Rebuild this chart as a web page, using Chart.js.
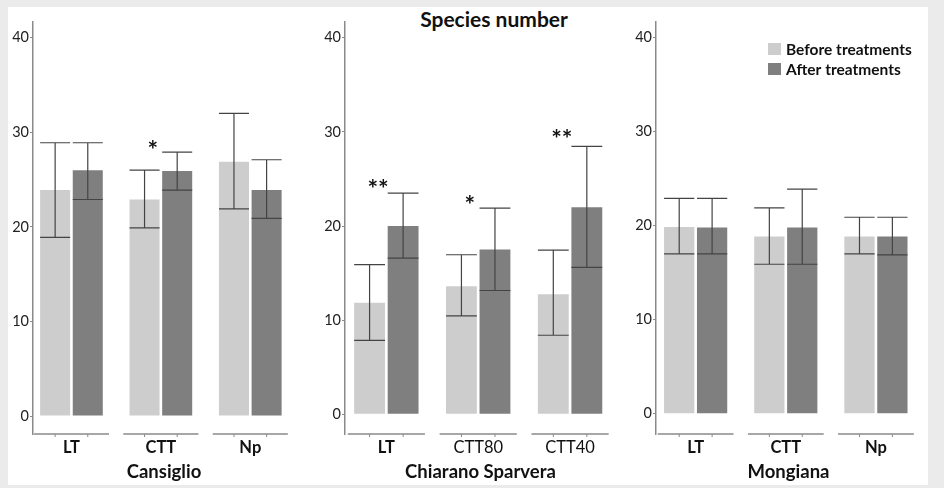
<!DOCTYPE html>
<html>
<head>
<meta charset="utf-8">
<script src="https://cdn.jsdelivr.net/npm/chart.js@4.4.1/dist/chart.umd.min.js"></script>
<style>
  html, body { margin: 0; padding: 0; }
  body { background: #ebebeb; width: 944px; height: 488px; overflow: hidden; position: relative; font-family: Lato, "Open Sans", sans-serif; }
  #sheet { position: absolute; left: 8px; top: 7px; width: 920px; height: 478px; background: #ffffff; }
  canvas { position: absolute; top: 7px; }
  #c1 { left: 8px; }
  #c2 { left: 310px; }
  #c3 { left: 620px; }
  #title { position: absolute; left: 394px; width: 200px; top: 6px; text-align: center; font: bold 21px Lato, sans-serif; color: #111; line-height: 26px; }
</style>
</head>
<body>
<div id="sheet"></div>
<div id="title">Species number</div>
<canvas id="c1" width="302" height="478"></canvas>
<canvas id="c2" width="310" height="478"></canvas>
<canvas id="c3" width="308" height="478"></canvas>
<script>
// ---------------- DATA ----------------
const seriesNames = ['Before treatments', 'After treatments'];
const yTicks = [0, 10, 20, 30, 40];

// Cansiglio
const cansiglioCats = ['LT', 'CTT', 'Np'];
const cansiglioBefore = [23.9, 22.9, 26.9];
const cansiglioBeforeLow = [18.9, 19.9, 21.9];
const cansiglioBeforeHigh = [28.9, 26.0, 32.0];
const cansiglioAfter = [26.0, 25.9, 23.9];
const cansiglioAfterLow = [22.9, 23.9, 20.9];
const cansiglioAfterHigh = [28.9, 27.9, 27.1];
const cansiglioSig = ['', '*', ''];
const cansiglioSigY = [null, 28.65, null];

// Chiarano Sparvera
const chiaranoCats = ['LT', 'CTT80', 'CTT40'];
const chiaranoBefore = [11.85, 13.6, 12.75];
const chiaranoBeforeLow = [7.85, 10.45, 8.4];
const chiaranoBeforeHigh = [15.9, 16.95, 17.45];
const chiaranoAfter = [20.0, 17.5, 22.0];
const chiaranoAfterLow = [16.6, 13.15, 15.6];
const chiaranoAfterHigh = [23.5, 21.9, 28.45];
const chiaranoSig = ['**', '*', '**'];
const chiaranoSigY = [24.5, 22.75, 29.75];

// Mongiana
const mongianaCats = ['LT', 'CTT', 'Np'];
const mongianaBefore = [19.85, 18.85, 18.85];
const mongianaBeforeLow = [17.0, 15.9, 17.0];
const mongianaBeforeHigh = [22.9, 21.9, 20.9];
const mongianaAfter = [19.8, 19.8, 18.85];
const mongianaAfterLow = [17.0, 15.9, 16.9];
const mongianaAfterHigh = [22.9, 23.9, 20.9];
const mongianaSig = ['', '', ''];
const mongianaSigY = [null, null, null];

// ---------------- STYLE ----------------
const COLOR_BEFORE = '#cdcdcd';
const COLOR_AFTER = '#7f7f7f';
const AXIS_COLOR = '#8a8a8a';
const ERR_COLOR = '#444444';
const FONT = 'Lato, "Open Sans", sans-serif';

const errorBarPlugin = {
  id: 'errorBars',
  afterDatasetsDraw(chart) {
    const ctx = chart.ctx, y = chart.scales.y;
    ctx.save();
    ctx.strokeStyle = ERR_COLOR;
    ctx.lineWidth = 1.2;
    chart.data.datasets.forEach((ds, d) => {
      const meta = chart.getDatasetMeta(d);
      meta.data.forEach((bar, i) => {
        const yl = y.getPixelForValue(ds.errLow[i]);
        const yh = y.getPixelForValue(ds.errHigh[i]);
        const half = bar.width / 2;
        ctx.beginPath();
        ctx.moveTo(bar.x - half, yh); ctx.lineTo(bar.x + half, yh);
        ctx.moveTo(bar.x - half, yl); ctx.lineTo(bar.x + half, yl);
        ctx.moveTo(bar.x, yl); ctx.lineTo(bar.x, yh);
        ctx.stroke();
      });
    });
    ctx.restore();
  }
};

const axisSegmentsPlugin = {
  id: 'axisSegments',
  afterDatasetsDraw(chart) {
    const ctx = chart.ctx, x = chart.scales.x, area = chart.chartArea;
    const n = chart.options.plugins.axisSegments.count;
    ctx.save();
    ctx.strokeStyle = AXIS_COLOR;
    ctx.lineWidth = 1.5;
    const yb = area.bottom;
    for (let i = 0; i < n; i++) {
      const x1 = Math.max(area.left, x.getPixelForValue(i - 0.42));
      const x2 = x.getPixelForValue(i + 0.42);
      ctx.beginPath(); ctx.moveTo(x1, yb); ctx.lineTo(x2, yb); ctx.stroke();
    }
    ctx.lineWidth = 1;
    chart.data.datasets.forEach((ds, d) => {
      chart.getDatasetMeta(d).data.forEach(bar => {
        ctx.beginPath(); ctx.moveTo(bar.x, yb); ctx.lineTo(bar.x, yb + 3); ctx.stroke();
      });
    });
    ctx.restore();
  }
};

const sigPlugin = {
  id: 'sigMarks',
  afterDatasetsDraw(chart) {
    const o = chart.options.plugins.sigMarks;
    const ctx = chart.ctx, x = chart.scales.x, y = chart.scales.y;
    ctx.save();
    ctx.fillStyle = '#111';
    ctx.font = 'bold 25px ' + FONT;
    ctx.textAlign = 'center';
    ctx.textBaseline = 'alphabetic';
    o.text.forEach((t, i) => {
      if (!t) return;
      ctx.fillText(t, x.getPixelForValue(i - 0.09), y.getPixelForValue(o.at[i]) + 14);
    });
    ctx.restore();
  }
};

const innerLegendPlugin = {
  id: 'innerLegend',
  afterDraw(chart) {
    const o = chart.options.plugins.innerLegend;
    if (!o.show) return;
    const ctx = chart.ctx, area = chart.chartArea;
    ctx.save();
    ctx.font = 'bold 15.5px ' + FONT;
    ctx.textBaseline = 'middle';
    ctx.textAlign = 'left';
    chart.data.datasets.forEach((ds, d) => {
      const bx = area.right - 153, by = area.top + 21 + d * 20;
      ctx.fillStyle = ds.backgroundColor;
      ctx.fillRect(bx, by, 13, 12);
      ctx.fillStyle = '#111';
      ctx.fillText(ds.label, bx + 18, by + 7);
    });
    ctx.restore();
  }
};

function makePanel(id, p) {
  const mk = (vals, lo, hi, idx) => ({
    label: seriesNames[idx],
    data: vals.map((v, i) => ({ x: i, y: v })),
    errLow: lo, errHigh: hi,
    backgroundColor: idx === 0 ? COLOR_BEFORE : COLOR_AFTER,
    borderWidth: 0,
    categoryPercentage: 0.73,
    barPercentage: 0.92
  });
  return new Chart(document.getElementById(id), {
    type: 'bar',
    data: {
      datasets: [
        mk(p.before, p.beforeLow, p.beforeHigh, 0),
        mk(p.after, p.afterLow, p.afterHigh, 1)
      ]
    },
    plugins: [errorBarPlugin, axisSegmentsPlugin, sigPlugin, innerLegendPlugin],
    options: {
      responsive: false,
      animation: false,
      events: [],
      layout: { padding: { top: 15, bottom: 0, left: 0, right: p.padRight } },
      plugins: {
        legend: { display: false },
        tooltip: { enabled: false },
        title: { display: false },
        axisSegments: { count: p.cats.length },
        sigMarks: { text: p.sig, at: p.sigY },
        innerLegend: { show: !!p.legend }
      },
      scales: {
        x: {
          type: 'linear',
          offset: false,
          min: p.xMin, max: 2.5,
          afterFit: s => { s.height = 51; },
          afterBuildTicks: s => { s.ticks = p.cats.map((c, i) => ({ value: i })); },
          grid: { display: false, drawTicks: false },
          border: { display: false },
          ticks: {
            autoSkip: false,
            maxRotation: 0,
            padding: 4,
            color: '#111',
            font: ctx => ({ family: FONT, size: 16.5, weight: p.boldCats[ctx.index] ? 'bold' : 'normal' }),
            callback: v => p.cats[v]
          },
          title: {
            display: true,
            text: p.name,
            color: '#111',
            font: { family: FONT, size: 18.5, weight: 'bold' },
            padding: { top: 2, bottom: 2 }
          }
        },
        y: {
          min: p.yMin, max: 41.67,
          afterFit: s => { s.width = p.yWidth; },
          afterBuildTicks: s => { s.ticks = yTicks.map(v => ({ value: v })); },
          grid: { display: true, drawOnChartArea: false, drawTicks: true, tickLength: 3, color: AXIS_COLOR, lineWidth: 1 },
          border: { display: true, color: AXIS_COLOR, width: 1.5 },
          ticks: { padding: 1, color: '#222', font: { family: FONT, size: 14.5 } }
        }
      }
    }
  });
}

makePanel('c1', {
  name: 'Cansiglio', cats: cansiglioCats, boldCats: [true, true, true],
  before: cansiglioBefore, beforeLow: cansiglioBeforeLow, beforeHigh: cansiglioBeforeHigh,
  after: cansiglioAfter, afterLow: cansiglioAfterLow, afterHigh: cansiglioAfterHigh,
  sig: cansiglioSig, sigY: cansiglioSigY,
  yMin: -1.9, yWidth: 25, xMin: -0.43, padRight: 15
});
makePanel('c2', {
  name: 'Chiarano Sparvera', cats: chiaranoCats, boldCats: [true, false, false],
  before: chiaranoBefore, beforeLow: chiaranoBeforeLow, beforeHigh: chiaranoBeforeHigh,
  after: chiaranoAfter, afterLow: chiaranoAfterLow, afterHigh: chiaranoAfterHigh,
  sig: chiaranoSig, sigY: chiaranoSigY,
  yMin: -2.09, yWidth: 35, xMin: -0.45, padRight: 4
});
makePanel('c3', {
  name: 'Mongiana', cats: mongianaCats, boldCats: [true, true, true],
  before: mongianaBefore, beforeLow: mongianaBeforeLow, beforeHigh: mongianaBeforeHigh,
  after: mongianaAfter, afterLow: mongianaAfterLow, afterHigh: mongianaAfterHigh,
  sig: mongianaSig, sigY: mongianaSigY, legend: true,
  yMin: -2.16, yWidth: 36, xMin: -0.44, padRight: 7
});
</script>
</body>
</html>
